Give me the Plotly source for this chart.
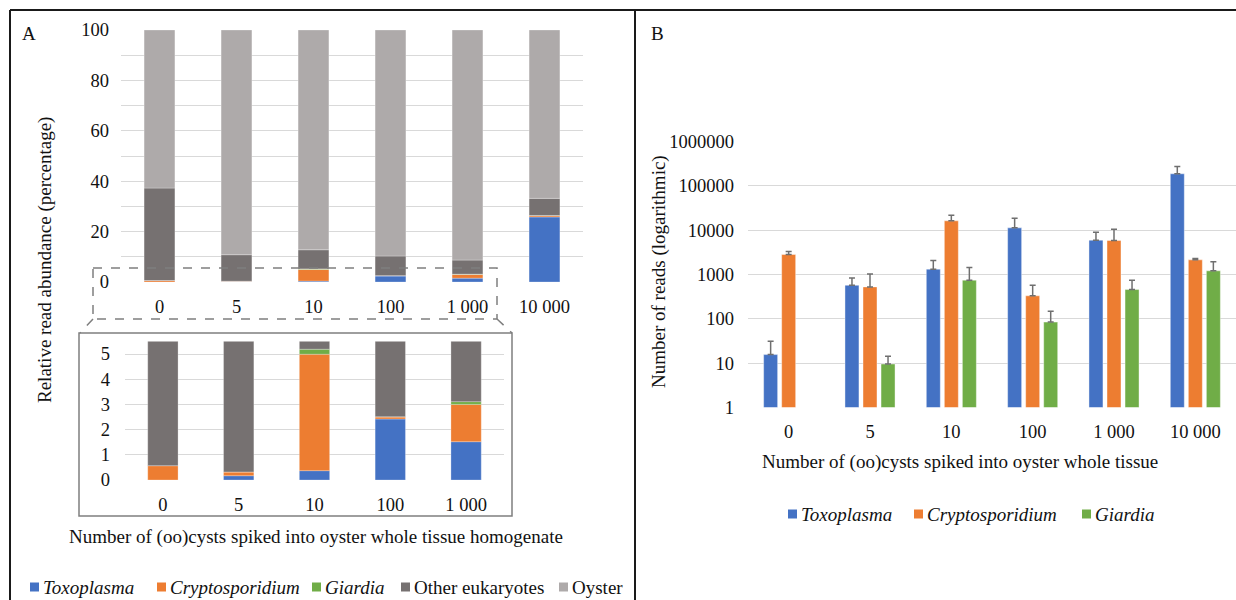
import plotly.graph_objects as go

W, H = 1236, 600
FONT = "Liberation Serif, Times New Roman, serif"
TXT = "#111111"
GRID = "#d9d9d9"
TICK_SIZE = 18.5
TEXT_SIZE = 19

# ---- data -------------------------------------------------------------
categories = ["0", "5", "10", "100", "1 000", "10 000"]
inset_categories = categories[:5]

# Panel A: relative read abundance (%)
toxo_pct = [0.0, 0.17, 0.37, 2.42, 1.52, 25.8]
crypto_pct = [0.57, 0.15, 4.62, 0.08, 1.48, 0.5]
giardia_pct = [0.0, 0.0, 0.2, 0.01, 0.11, 0.1]
other_pct = [36.7, 10.5, 7.6, 7.8, 5.6, 6.8]
oyster_pct = [62.73, 89.18, 87.21, 89.69, 91.29, 66.8]

# Panel B: number of reads (mean) and upper error
toxo_reads = [15.5, 570, 1320, 11300, 5960, 188000]
toxo_err = [15.5, 260, 760, 7400, 3080, 87000]
crypto_reads = [2830, 525, 16300, 330, 5860, 2140]
crypto_err = [470, 495, 5600, 245, 4640, 150]
giardia_reads = [None, 9.5, 745, 84, 457, 1210]
giardia_err = [0, 4.7, 695, 64, 288, 740]

log_ticks = [1, 10, 100, 1000, 10000, 100000, 1000000]
log_tick_text = ["1", "10", "100", "1000", "10000", "100000", "1000000"]

COLORS = {
    "toxo": "#4472c4",
    "crypto": "#ed7d31",
    "giardia": "#70ad47",
    "other": "#767171",
    "oyster": "#aeaaaa",
}


def X(px):
    return px / W


def Y(py):
    return 1 - py / H


fig = go.Figure()

# ---- panel A: stacked bars (main and zoomed inset) --------------------
stack_series = [
    ("<i>Toxoplasma</i>", toxo_pct, COLORS["toxo"]),
    ("<i>Cryptosporidium</i>", crypto_pct, COLORS["crypto"]),
    ("<i>Giardia</i>", giardia_pct, COLORS["giardia"]),
    ("Other eukaryotes", other_pct, COLORS["other"]),
    ("Oyster", oyster_pct, COLORS["oyster"]),
]

base_main = [0.0] * len(categories)
for name, vals, col in stack_series:
    fig.add_trace(go.Bar(
        x=categories, y=vals, base=list(base_main), name=name,
        marker=dict(color=col, line=dict(color="rgba(255,255,255,0.45)", width=0.6)),
        width=0.4, xaxis="x", yaxis="y", showlegend=False,
        hoverinfo="skip",
    ))
    base_main = [b + v for b, v in zip(base_main, vals)]

base_inset = [0.0] * len(inset_categories)
for name, vals, col in stack_series:
    v = vals[:len(inset_categories)]
    fig.add_trace(go.Bar(
        x=inset_categories, y=v, base=list(base_inset), name=name,
        marker=dict(color=col, line=dict(color="rgba(255,255,255,0.45)", width=0.6)),
        width=0.4, xaxis="x2", yaxis="y2", showlegend=False,
        hoverinfo="skip",
    ))
    base_inset = [b + w for b, w in zip(base_inset, v)]

# ---- panel B: grouped bars on a log scale -----------------------------
bw = 0.172
step = 0.2217
group_series = [
    ("<i>Toxoplasma</i>", toxo_reads, toxo_err, COLORS["toxo"], -step),
    ("<i>Cryptosporidium</i>", crypto_reads, crypto_err, COLORS["crypto"], 0.0),
    ("<i>Giardia</i>", giardia_reads, giardia_err, COLORS["giardia"], step),
]
for name, vals, err, col, shift in group_series:
    fig.add_trace(go.Bar(
        x=categories, y=vals, name=name,
        marker=dict(color=col, line=dict(color="rgba(255,255,255,0.5)", width=0.8)),
        width=bw, offset=shift - bw / 2,
        error_y=dict(type="data", symmetric=False, array=err,
                     arrayminus=[0] * len(err), color="#6f6f6f",
                     thickness=1.5, width=3),
        xaxis="x3", yaxis="y3", showlegend=False,
        hoverinfo="skip",
    ))

tickfont = dict(family=FONT, size=TICK_SIZE, color=TXT)

fig.update_layout(
    width=W, height=H,
    margin=dict(l=0, r=0, t=0, b=0, autoexpand=False),
    paper_bgcolor="white", plot_bgcolor="rgba(0,0,0,0)",
    barmode="overlay",
    showlegend=False,
    font=dict(family=FONT, size=TEXT_SIZE, color=TXT),
    xaxis=dict(domain=[X(121), X(583)], anchor="y", showgrid=False,
               tickfont=tickfont, ticks="", ticklabelstandoff=11,
               showline=False, fixedrange=True),
    yaxis=dict(domain=[Y(282), Y(30)], anchor="x", range=[0, 100],
               tickvals=[0, 20, 40, 60, 80, 100], showgrid=True,
               gridcolor=GRID, gridwidth=1, zeroline=False,
               minor=dict(dtick=10, showgrid=True, gridcolor=GRID, gridwidth=1),
               tickfont=tickfont, ticks="", ticklabelstandoff=11,
               fixedrange=True),
    xaxis2=dict(domain=[X(125), X(504)], anchor="y2", showgrid=False,
                tickfont=tickfont, ticks="", ticklabelstandoff=11,
                fixedrange=True),
    yaxis2=dict(domain=[Y(480), Y(480 - 5.5 * 25.2)], anchor="x2",
                range=[0, 5.5], tickvals=[0, 1, 2, 3, 4, 5], showgrid=True,
                gridcolor=GRID, gridwidth=1, zeroline=False,
                tickfont=tickfont, ticks="", ticklabelstandoff=14,
                fixedrange=True),
    xaxis3=dict(domain=[X(748), X(1236)], anchor="y3", showgrid=False,
                tickfont=tickfont, ticks="", ticklabelstandoff=11,
                range=[-0.5, 5.5], fixedrange=True),
    yaxis3=dict(domain=[Y(407.3), Y(407.3 - 6 * 44.27)], anchor="x3",
                type="log", range=[0, 6], tickvals=log_ticks,
                ticktext=log_tick_text, showgrid=True, gridcolor=GRID,
                gridwidth=1, zeroline=False, tickfont=tickfont, ticks="",
                ticklabelstandoff=13, fixedrange=True),
)

# ---- frames, zoom box and connectors ---------------------------------
dark = dict(color="#1a1a1a", width=2)
grey = dict(color="#7f7f7f", width=1.5)
dashed = dict(color="#7f7f7f", width=1.5, dash="dash")


def seg(x0, y0, x1, y1, line):
    fig.add_shape(type="line", xref="paper", yref="paper",
                  x0=X(x0), y0=Y(y0), x1=X(x1), y1=Y(y1), line=line)


def box(x0, y0, x1, y1, line, fill="rgba(0,0,0,0)"):
    fig.add_shape(type="rect", xref="paper", yref="paper",
                  x0=X(x0), y0=Y(y0), x1=X(x1), y1=Y(y1), line=line,
                  fillcolor=fill)


seg(10, 10, 1236, 10, dark)
seg(10, 10, 10, 600, dark)
seg(635, 10, 635, 600, dark)

box(93, 268, 497, 319, dashed)
seg(93, 319, 80, 333, dashed)
seg(497, 319, 512, 333, dashed)
box(79, 333, 512, 516, grey)


# ---- text ------------------------------------------------------------
def note(text, px, py, angle=0, size=TEXT_SIZE, anchor="center"):
    fig.add_annotation(text=text, xref="paper", yref="paper", x=X(px),
                       y=Y(py), showarrow=False, textangle=angle,
                       xanchor=anchor, yanchor="middle",
                       font=dict(family=FONT, size=size, color=TXT))


note("A", 29, 33)
note("B", 657, 33)
note("Relative read abundance (percentage)", 45, 260, angle=-90)
note("Number of (oo)cysts spiked into oyster whole tissue homogenate", 316, 537)
note("Number of reads (logarithmic)", 659, 272, angle=-90)
note("Number of (oo)cysts spiked into oyster whole tissue", 960, 462)


# ---- legends: colour key squares followed by labels -------------------
def key(label, color, left, cy):
    box(left, cy - 4.5, left + 9, cy + 4.5,
        dict(color=color, width=0), fill=color)
    note(label, left + 11, cy, anchor="left")


legend_a = [(stack_series[i][0], stack_series[i][2], pos)
            for i, pos in enumerate([30, 157, 312, 401, 559])]
for label, color, left in legend_a:
    key(label, color, left, 587)

legend_b = [(group_series[i][0], group_series[i][3], pos)
            for i, pos in enumerate([788, 914, 1082])]
for label, color, left in legend_b:
    key(label, color, left, 514)

fig.write_html("out.html")
